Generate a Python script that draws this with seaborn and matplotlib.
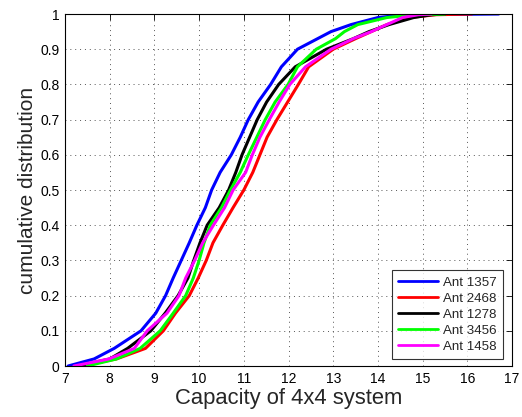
import matplotlib
matplotlib.use("Agg")
import matplotlib.pyplot as plt
import seaborn as sns
import pandas as pd
import numpy as np

# CDF levels and capacity values
cdf_levels = [0.0, 0.02, 0.05, 0.10, 0.15, 0.20, 0.25, 0.30, 0.35, 0.40, 0.45, 0.50,
              0.55, 0.60, 0.65, 0.70, 0.75, 0.80, 0.85, 0.90, 0.93, 0.95, 0.97, 0.99,
              0.998, 1.0]

ant_1357 = [7.07, 7.65, 8.10, 8.70, 9.03, 9.25, 9.42, 9.60, 9.78, 9.95, 10.14, 10.28,
            10.47, 10.72, 10.92, 11.10, 11.32, 11.60, 11.84, 12.20, 12.65, 12.95, 13.40, 14.00,
            14.60, 16.70]
ant_2468 = [7.34, 8.15, 8.80, 9.20, 9.47, 9.78, 9.98, 10.16, 10.31, 10.53, 10.76, 11.00,
            11.20, 11.36, 11.52, 11.74, 11.98, 12.22, 12.45, 13.00, 13.50, 13.85, 14.20, 14.70,
            15.30, 16.10]
ant_1278 = [7.30, 8.00, 8.40, 8.92, 9.24, 9.53, 9.75, 9.88, 10.02, 10.18, 10.45, 10.66,
            10.82, 10.96, 11.13, 11.30, 11.51, 11.78, 12.15, 12.85, 13.45, 13.80, 14.25, 14.80,
            15.20, 15.50]
ant_3456 = [7.50, 8.15, 8.68, 9.13, 9.42, 9.70, 9.87, 10.00, 10.11, 10.25, 10.50, 10.70,
            10.92, 11.10, 11.29, 11.48, 11.70, 11.99, 12.20, 12.62, 13.05, 13.25, 13.55, 14.20,
            14.80, 15.50]
ant_1458 = [7.20, 7.98, 8.55, 8.84, 9.28, 9.55, 9.70, 9.90, 10.08, 10.32, 10.57, 10.76,
            11.04, 11.19, 11.36, 11.57, 11.79, 12.03, 12.38, 12.95, 13.45, 13.85, 14.20, 14.55,
            14.90, 15.20]

series_names = ["Ant 1357", "Ant 2468", "Ant 1278", "Ant 3456", "Ant 1458"]
series_values = [ant_1357, ant_2468, ant_1278, ant_3456, ant_1458]
colors = ["#0000ff", "#ff0000", "#000000", "#00ff00", "#ff00ff"]

x_ticks = list(range(7, 18))
y_ticks = [0, 0.1, 0.2, 0.3, 0.4, 0.5, 0.6, 0.7, 0.8, 0.9, 1.0]
y_tick_labels = ["0", "0.1", "0.2", "0.3", "0.4", "0.5", "0.6", "0.7", "0.8", "0.9", "1"]

frames = []
for name, vals in zip(series_names, series_values):
    frames.append(pd.DataFrame({"capacity": vals, "cdf": cdf_levels, "antenna": name}))
df = pd.concat(frames, ignore_index=True)

sns.set_style("white")
plt.rcParams["font.family"] = ["Liberation Sans", "DejaVu Sans"]

fig = plt.figure(figsize=(5.22, 4.17), dpi=100)
ax = fig.add_axes([0.1245, 0.1223, 0.8565, 0.8441])

sns.lineplot(data=df, x="capacity", y="cdf", hue="antenna", hue_order=series_names,
             palette=colors, estimator=None, sort=False, linewidth=2.2, ax=ax)

ax.set_xlim(7, 17)
ax.set_ylim(0, 1)
ax.set_xticks(x_ticks)
ax.set_xticklabels([str(t) for t in x_ticks])
ax.set_yticks(y_ticks)
ax.set_yticklabels(y_tick_labels)
ax.tick_params(direction="in", length=4, width=0.6, top=True, right=True,
               labelsize=10, colors="black", pad=4)
ax.grid(True, linestyle=(0, (1, 4)), color="#555555", linewidth=0.7)
for s in ax.spines.values():
    s.set_visible(True)
    s.set_color("black")
    s.set_linewidth(0.8)

ax.set_xlabel("Capacity of 4x4 system", fontsize=15.8, labelpad=2)
ax.set_ylabel("cumulative distribution", fontsize=15, labelpad=2)

leg = ax.legend(loc="lower right", bbox_to_anchor=(0.979, 0.02), borderaxespad=0,
                fontsize=9.6, frameon=True, fancybox=False, edgecolor="black",
                handlelength=3.0, borderpad=0.45, labelspacing=0.28, handletextpad=0.4)
leg.get_frame().set_linewidth(0.8)
for line in leg.get_lines():
    line.set_linewidth(2.0)

fig.savefig("out.png", dpi=100, facecolor="white")
